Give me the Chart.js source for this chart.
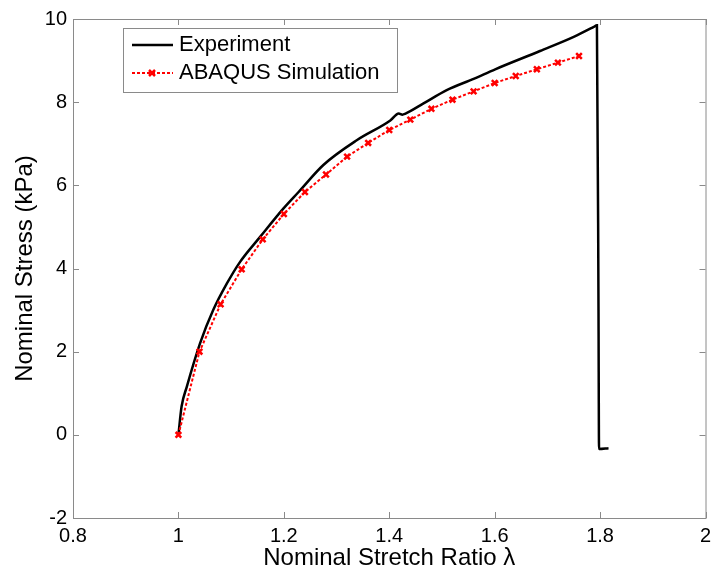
<!DOCTYPE html>
<html>
<head>
<meta charset="utf-8">
<script src="https://cdn.jsdelivr.net/npm/chart.js@4.4.0/dist/chart.umd.min.js"></script>
<style>
    html, body { margin: 0; padding: 0; background: #fff; }
</style>
</head>
<body>
<canvas id="stressChart" width="712" height="575"></canvas>
<script>
// Experiment curve (stretch ratio vs nominal stress, kPa)
const expStretch = [1.000, 1.006, 1.016, 1.041, 1.066, 1.092, 1.117, 1.155, 1.199, 1.228, 1.275, 1.339, 1.402, 1.418, 1.425, 1.430, 1.465, 1.509, 1.560, 1.601, 1.686, 1.750, 1.788, 1.794, 1.797, 1.798, 1.816];
const expStress  = [0.00, 0.68, 1.16, 2.20, 3.00, 3.64, 4.16, 4.76, 5.44, 5.84, 6.49, 7.09, 7.56, 7.73, 7.70, 7.72, 7.97, 8.29, 8.56, 8.79, 9.23, 9.57, 9.81, 9.85, 3.00, -0.34, -0.32];

// ABAQUS simulation points
const simStretch = [1.00, 1.04, 1.08, 1.12, 1.16, 1.20, 1.24, 1.28, 1.32, 1.36, 1.40, 1.44, 1.48, 1.52, 1.56, 1.60, 1.64, 1.68, 1.72, 1.76];
const simStress  = [0.00, 2.00, 3.14, 3.98, 4.70, 5.31, 5.84, 6.26, 6.69, 7.02, 7.33, 7.58, 7.84, 8.06, 8.26, 8.46, 8.63, 8.79, 8.95, 9.11];

const xTicks = [0.8, 1, 1.2, 1.4, 1.6, 1.8, 2];
const xTickLabels = ['0.8', '1', '1.2', '1.4', '1.6', '1.8', '2'];
const yTicks = [-2, 0, 2, 4, 6, 8, 10];
const yTickLabels = ['-2', '0', '2', '4', '6', '8', '10'];

const FONT = '"Liberation Sans", Arial, sans-serif';
const AXIS_GRAY = '#8a8a8a';

function toPoints(xs, ys) {
    return xs.map((x, i) => ({ x: x, y: ys[i] }));
}

// Box around the plot with inward tick marks, plus the legend inside the axes
const framePlugin = {
    id: 'frame',
    afterDraw(chart) {
        const ctx = chart.ctx;
        const a = chart.chartArea;
        const xs = chart.scales.x;
        const ys = chart.scales.y;
        const tl = 6;
        ctx.save();
        ctx.strokeStyle = AXIS_GRAY;
        ctx.lineWidth = 1;
        ctx.strokeRect(a.left + 0.5, a.top + 0.5, a.right - a.left, a.bottom - a.top);
        ctx.beginPath();
        xs.ticks.forEach(t => {
            const px = Math.round(xs.getPixelForValue(t.value)) + 0.5;
            ctx.moveTo(px, a.bottom); ctx.lineTo(px, a.bottom - tl);
            ctx.moveTo(px, a.top); ctx.lineTo(px, a.top + tl);
        });
        ys.ticks.forEach(t => {
            const py = Math.round(ys.getPixelForValue(t.value)) + 0.5;
            ctx.moveTo(a.left, py); ctx.lineTo(a.left + tl, py);
            ctx.moveTo(a.right, py); ctx.lineTo(a.right - tl, py);
        });
        ctx.stroke();

        // legend
        const lx = 123, ly = 28, lw = 274, lh = 64;
        ctx.fillStyle = '#fff';
        ctx.fillRect(lx, ly, lw, lh);
        ctx.strokeRect(lx + 0.5, ly + 0.5, lw, lh);
        const rows = [45, 73];
        chart.data.datasets.forEach((ds, i) => {
            const y = rows[i];
            ctx.save();
            ctx.strokeStyle = ds.borderColor;
            ctx.lineWidth = ds.borderWidth;
            ctx.setLineDash(ds.borderDash || []);
            ctx.beginPath();
            ctx.moveTo(132, y); ctx.lineTo(173, y);
            ctx.stroke();
            ctx.setLineDash([]);
            if (ds.pointRadius > 0) {
                const r = ds.pointRadius;
                const cx = 152;
                ctx.lineWidth = ds.pointBorderWidth;
                ctx.beginPath();
                ctx.moveTo(cx - r * 0.75, y - r * 0.75); ctx.lineTo(cx + r * 0.75, y + r * 0.75);
                ctx.moveTo(cx - r * 0.75, y + r * 0.75); ctx.lineTo(cx + r * 0.75, y - r * 0.75);
                ctx.stroke();
            }
            ctx.restore();
            ctx.fillStyle = '#000';
            ctx.font = '22px ' + FONT;
            ctx.textBaseline = 'middle';
            ctx.textAlign = 'left';
            ctx.fillText(ds.label, 179, y);
        });
        ctx.restore();
    }
};

const ctx = document.getElementById('stressChart').getContext('2d');
new Chart(ctx, {
    type: 'scatter',
    data: {
        datasets: [{
            label: 'Experiment',
            data: toPoints(expStretch, expStress),
            showLine: true,
            borderColor: '#000000',
            borderWidth: 2.5,
            pointRadius: 0,
            cubicInterpolationMode: 'monotone',
            order: 1
        }, {
            label: 'ABAQUS Simulation',
            data: toPoints(simStretch, simStress),
            showLine: true,
            borderColor: '#ff0000',
            borderWidth: 2,
            borderDash: [3, 2],
            pointStyle: 'crossRot',
            pointRadius: 4,
            pointBorderWidth: 2.5,
            pointBorderColor: '#ff0000',
            tension: 0,
            order: 0
        }]
    },
    options: {
        responsive: false,
        animation: false,
        devicePixelRatio: 1,
        layout: { padding: { top: 19, right: 6, left: 0, bottom: 0 } },
        plugins: {
            legend: { display: false },
            tooltip: { enabled: false }
        },
        scales: {
            x: {
                type: 'linear',
                min: 0.8,
                max: 2,
                afterBuildTicks: s => { s.ticks = xTicks.map(v => ({ value: v })); },
                afterFit: s => {
                    s.height = 57;
                    s.paddingLeft = 0;
                    s.paddingRight = 0;
                },
                grid: { display: false, drawTicks: false },
                border: { display: false },
                ticks: {
                    callback: (v, i) => xTickLabels[i],
                    color: '#000',
                    font: { family: FONT, size: 20 },
                    padding: 6,
                    maxRotation: 0,
                    autoSkip: false
                },
                title: {
                    display: true,
                    text: 'Nominal Stretch Ratio λ',
                    color: '#000',
                    font: { family: FONT, size: 24 },
                    padding: { top: 0, bottom: 2 }
                }
            },
            y: {
                type: 'linear',
                min: -2,
                max: 10,
                afterBuildTicks: s => { s.ticks = yTicks.map(v => ({ value: v })); },
                afterFit: s => { s.width = 73; },
                grid: { display: false, drawTicks: false },
                border: { display: false },
                ticks: {
                    callback: (v, i) => yTickLabels[i],
                    color: '#000',
                    font: { family: FONT, size: 20 },
                    padding: 6,
                    autoSkip: false
                },
                title: {
                    display: true,
                    text: 'Nominal Stress (kPa)',
                    color: '#000',
                    font: { family: FONT, size: 24 },
                    padding: { top: 11, bottom: 0 }
                }
            }
        }
    },
    plugins: [framePlugin]
});
</script>
</body>
</html>
